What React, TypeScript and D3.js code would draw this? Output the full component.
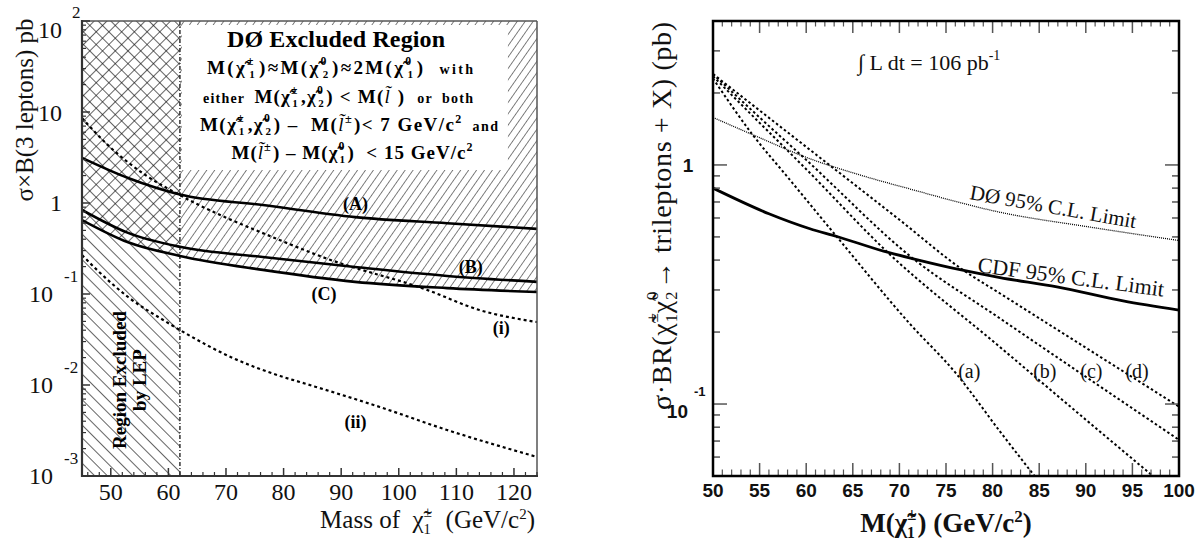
import React from 'react';
import * as d3 from 'd3';

// ---------- Left panel data ----------
const leftXDomain = [45, 124];
const leftYDomain = [1e-3, 1e2];
const lepLimit = 62;
const leftXTicks = [50, 60, 70, 80, 90, 100, 110, 120];
const leftYDecades = [-3, -2, -1, 0, 1, 2];
const curveA = [[45, 3.13], [53, 1.88], [62, 1.24], [76.4, 0.95], [92.4, 0.70], [108.4, 0.60], [124, 0.52]];
const curveB = [[45, 0.84], [53, 0.47], [62, 0.33], [76.4, 0.255], [92.4, 0.198], [108.4, 0.158], [124, 0.136]];
const curveC = [[45, 0.65], [53, 0.37], [62, 0.262], [76.4, 0.184], [92.4, 0.136], [108.4, 0.116], [124, 0.105]];
const curveI = [[45, 8.59], [49.5, 4.33], [56, 2.03], [62, 1.22], [79.4, 0.39], [87.2, 0.249], [104.9, 0.111], [114, 0.0667], [124, 0.0492]];
const curveII = [[45, 0.268], [47.6, 0.184], [53, 0.0927], [59.1, 0.0518], [62, 0.0402], [71.2, 0.0198], [79.4, 0.01256], [82.8, 0.0108], [96.7, 0.00573], [108.4, 0.0032], [124, 0.00162]];
const leftCurveLabels = [
  { t: '(A)', x: 92.5, y: 0.84 },
  { t: '(B)', x: 112.5, y: 0.17 },
  { t: '(C)', x: 87, y: 0.085 },
  { t: '(i)', x: 117.8, y: 0.036 },
  { t: '(ii)', x: 92.5, y: 0.0034 },
];

// ---------- Right panel data ----------
const rightXDomain = [50, 100];
const rightYDomain = [0.05, 4];
const rightXTicks = [50, 55, 60, 65, 70, 75, 80, 85, 90, 95, 100];
const cdfLimit = [[50, 0.80], [56, 0.625], [60.4, 0.541], [63.3, 0.502], [68.3, 0.436], [71.5, 0.405], [76.9, 0.362], [80.8, 0.338], [86.9, 0.309], [94, 0.27], [100, 0.247]];
const d0Limit = [[50, 1.58], [55, 1.30], [60, 1.076], [65.4, 0.917], [71.1, 0.794], [80.8, 0.634], [90.4, 0.55], [100, 0.483]];
const curveSa = [[50, 2.30], [54.3, 1.33], [58, 0.89], [63.3, 0.50], [71.1, 0.217], [76.1, 0.134], [80.8, 0.0767], [84.5, 0.05]];
const curveSb = [[50, 2.35], [55, 1.50], [60, 0.96], [68.6, 0.436], [80.8, 0.173], [90, 0.086], [97.2, 0.05]];
const curveSc = [[50, 2.40], [55, 1.58], [60, 1.05], [71.5, 0.405], [80.8, 0.228], [90, 0.130], [100, 0.0708]];
const curveSd = [[50, 2.40], [55, 1.69], [60, 1.19], [70, 0.59], [76.9, 0.362], [80.8, 0.29], [90, 0.172], [100, 0.0975]];
const rightCurveLabels = [
  { t: '(a)', x: 77.5 },
  { t: '(b)', x: 85.6 },
  { t: '(c)', x: 90.6 },
  { t: '(d)', x: 95.5 },
];
const rightLabelY = 0.128;

const SERIF = "'Liberation Serif', 'Times New Roman', serif";
const SANS = "'Liberation Sans', Arial, sans-serif";

const L = { x0: 82, x1: 537, y0: 21, y1: 476 };
const R = { x0: 713, x1: 1179, y0: 21, y1: 476 };
const PRE: React.CSSProperties = { whiteSpace: 'pre' };

// chi-tilde with stacked superscript / subscript, followed by `after` text
function chi(sup: string, sub: string, fs: number, key: string, after: string) {
  const supSize = fs * 0.62;
  const subSize = fs * 0.58;
  const supW = sup === '±' ? supSize * 0.56 : supSize * 0.5;
  const subW = subSize * 0.5;
  return [
    <tspan key={key + 'c'}>χ̃</tspan>,
    <tspan key={key + 'p'} fontSize={supSize} baselineShift={`${fs * 0.45}px`}>{sup}</tspan>,
    <tspan key={key + 'b'} fontSize={subSize} dx={-supW} baselineShift={`${-fs * 0.22}px`}>{sub}</tspan>,
    <tspan key={key + 'e'} dx={Math.max(0, supW - subW) + 1}>{after}</tspan>,
  ];
}

function slep(sup: string | null, fs: number, key: string, after: string) {
  const out = [<tspan key={key + 'l'} fontStyle="italic" fontWeight="normal">l̃</tspan>];
  if (sup) out.push(<tspan key={key + 's'} fontSize={fs * 0.65} baselineShift={`${fs * 0.42}px`}>{sup}</tspan>);
  out.push(<tspan key={key + 'e'} dx={1}>{after}</tspan>);
  return out;
}

export default function App() {
  const lx = d3.scaleLinear().domain(leftXDomain).range([L.x0, L.x1]);
  const ly = d3.scaleLog().domain(leftYDomain).range([L.y1, L.y0]);
  const rx = d3.scaleLinear().domain(rightXDomain).range([R.x0, R.x1]);
  const ry = d3.scaleLog().domain(rightYDomain).range([R.y1, R.y0]);

  const lineL = d3.line<number[]>().x(d => lx(d[0])).y(d => ly(d[1])).curve(d3.curveMonotoneX);
  const lineR = d3.line<number[]>().x(d => rx(d[0])).y(d => ry(d[1])).curve(d3.curveMonotoneX);

  const aboveC = `${lineL(curveC)}L${lx(124)},${L.y0}L${lx(45)},${L.y0}Z`;
  const xLep = lx(lepLimit);

  const leftMinorY = ly.ticks().filter(v => Math.abs(Math.log10(v) - Math.round(Math.log10(v))) > 1e-6);
  const leftMinorX = d3.range(46, 125, 2).filter(v => v % 10 !== 0);
  const rightMinorX = d3.range(50, 101, 1).filter(v => v % 5 !== 0);
  const rightYT = ry.ticks().filter(v => ry(v) > R.y0 + 1 && ry(v) < R.y1 - 1);

  const boxFs = 19;
  const smallFs = 14;

  return (
    <svg width={1200} height={558} style={{ position: 'absolute', left: 0, top: 0, background: '#fff' }}
      fontFamily={SERIF}>
      <defs>
        <pattern id="fwdDense" patternUnits="userSpaceOnUse" width={6.5} height={20} patternTransform="rotate(35)">
          <line x1={0} y1={0} x2={0} y2={20} stroke="#000" strokeWidth={1} />
        </pattern>
        <pattern id="fwdWide" patternUnits="userSpaceOnUse" width={9} height={20} patternTransform="rotate(45)">
          <line x1={0} y1={0} x2={0} y2={20} stroke="#111" strokeWidth={1.3} />
        </pattern>
        <pattern id="backWide" patternUnits="userSpaceOnUse" width={9} height={20} patternTransform="rotate(-45)">
          <line x1={0} y1={0} x2={0} y2={20} stroke="#111" strokeWidth={1.3} />
        </pattern>
        <clipPath id="clipLep"><rect x={L.x0} y={L.y0} width={xLep - L.x0} height={L.y1 - L.y0} /></clipPath>
        <clipPath id="clipRest"><rect x={xLep} y={L.y0} width={L.x1 - xLep} height={L.y1 - L.y0} /></clipPath>
        <clipPath id="clipL"><rect x={L.x0} y={L.y0} width={L.x1 - L.x0} height={L.y1 - L.y0} /></clipPath>
        <clipPath id="clipR"><rect x={R.x0} y={R.y0} width={R.x1 - R.x0} height={R.y1 - R.y0} /></clipPath>
      </defs>

      {/* ================= LEFT PANEL ================= */}
      <rect x={L.x0} y={L.y0} width={xLep - L.x0} height={L.y1 - L.y0} fill="url(#backWide)" />
      <path d={aboveC} fill="url(#fwdWide)" clipPath="url(#clipLep)" />
      <path d={aboveC} fill="url(#fwdDense)" clipPath="url(#clipRest)" />
      <rect x={xLep + 2} y={L.y0 + 4} width={326} height={145} fill="#fff" />
      <line x1={xLep} x2={xLep} y1={L.y0} y2={L.y1} stroke="#333" strokeWidth={1.5} strokeDasharray="4 2 1 2" />

      <g clipPath="url(#clipL)" fill="none" stroke="#000">
        <path d={lineL(curveA) || ''} strokeWidth={2.6} />
        <path d={lineL(curveB) || ''} strokeWidth={2.6} />
        <path d={lineL(curveC) || ''} strokeWidth={2.6} />
        <path d={lineL(curveI) || ''} strokeWidth={2.2} strokeDasharray="3 3" />
        <path d={lineL(curveII) || ''} strokeWidth={2.2} strokeDasharray="3 3" />
      </g>

      {leftCurveLabels.map(d => (
        <text key={d.t} x={lx(d.x)} y={ly(d.y)} fontSize={18} fontWeight="bold" textAnchor="middle">{d.t}</text>
      ))}

      {/* Box text */}
      <g fontWeight="bold" textAnchor="middle" style={PRE}>
        <text x={336} y={47} fontSize={24} textLength={218} lengthAdjust="spacing">DØ Excluded Region</text>
        <text x={340} y={74} fontSize={boxFs} style={PRE} textLength={266} lengthAdjust="spacing">
          <tspan>M(</tspan>{chi('±', '1', boxFs, 'a1', ')≈M(')}{chi('0', '2', boxFs, 'a2', ')≈2M(')}
          {chi('0', '1', boxFs, 'a3', ')  ')}
          <tspan fontSize={smallFs}>with</tspan>
        </text>
        <text x={338} y={103} fontSize={boxFs} style={PRE} textLength={270} lengthAdjust="spacing">
          <tspan fontSize={smallFs}>either  </tspan><tspan>M(</tspan>{chi('±', '1', boxFs, 'b1', ',')}{chi('0', '2', boxFs, 'b2', ') < M(')}
          {slep(null, boxFs, 'b3', ' )  ')}
          <tspan fontSize={smallFs}>or  both</tspan>
        </text>
        <text x={349} y={131} fontSize={boxFs} style={PRE} textLength={298} lengthAdjust="spacing">
          <tspan>M(</tspan>{chi('±', '1', boxFs, 'c1', ',')}{chi('0', '2', boxFs, 'c2', ') –  M(')}
          {slep('±', boxFs, 'c3', ')< 7 GeV/c')}
          <tspan fontSize={12} baselineShift="8px">2</tspan>
          <tspan fontSize={smallFs}>  and</tspan>
        </text>
        <text x={352} y={159} fontSize={boxFs} style={PRE} textLength={241} lengthAdjust="spacing">
          <tspan>M(</tspan>{slep('±', boxFs, 'd1', ') – M(')}{chi('0', '1', boxFs, 'd2', ')  < 15 GeV/c')}
          <tspan fontSize={12} baselineShift="8px">2</tspan>
        </text>
      </g>

      {/* LEP label */}
      <g fontWeight="bold" fontSize={19} textAnchor="middle">
        <text transform={`translate(126,380) rotate(-90)`}>Region Excluded</text>
        <text transform={`translate(146,380) rotate(-90)`}>by LEP</text>
      </g>

      {/* Left axes frame */}
      <line x1={L.x0} x2={L.x1} y1={L.y0} y2={L.y0} stroke="#555" strokeWidth={1.5} />
      <line x1={L.x1} x2={L.x1} y1={L.y0} y2={L.y1} stroke="#555" strokeWidth={1.5} />
      <line x1={L.x0} x2={L.x0} y1={L.y0 - 1} y2={L.y1 + 1} stroke="#333" strokeWidth={2.2} />
      <line x1={L.x0 - 1} x2={L.x1 + 1} y1={L.y1} y2={L.y1} stroke="#333" strokeWidth={2.2} />
      {leftYDecades.map(e => (
        <line key={'ly' + e} x1={L.x0} x2={L.x0 + 8} y1={ly(Math.pow(10, e))} y2={ly(Math.pow(10, e))} stroke="#333" strokeWidth={1.5} />
      ))}
      {leftMinorY.map(v => (
        <line key={'lym' + v} x1={L.x0} x2={L.x0 + 4} y1={ly(v)} y2={ly(v)} stroke="#333" strokeWidth={1.2} />
      ))}
      {leftXTicks.map(v => (
        <line key={'lx' + v} x1={lx(v)} x2={lx(v)} y1={L.y1} y2={L.y1 - 8} stroke="#333" strokeWidth={1.5} />
      ))}
      {leftMinorX.map(v => (
        <line key={'lxm' + v} x1={lx(v)} x2={lx(v)} y1={L.y1} y2={L.y1 - 4} stroke="#333" strokeWidth={1.2} />
      ))}
      {leftXTicks.map(v => (
        <text key={'lxt' + v} x={lx(v)} y={500} fontSize={24} textAnchor="middle" fill="#111">{v}</text>
      ))}
      {leftYDecades.map(e => {
        const y = ly(Math.pow(10, e));
        if (e === 0) return <text key={'lyt' + e} x={62} y={y + 8} fontSize={24} textAnchor="end" fill="#111">1</text>;
        if (e === 1) return <text key={'lyt' + e} x={62} y={y + 9} fontSize={24} textAnchor="end" fill="#111">10</text>;
        if (e === 2) return (
          <g key={'lyt' + e} fill="#111">
            <text x={62} y={38} fontSize={24} textAnchor="end">10</text>
            <text x={72} y={18} fontSize={17}>2</text>
          </g>
        );
        return (
          <g key={'lyt' + e} fill="#111">
            <text x={53} y={y + 8} fontSize={24} textAnchor="end">10</text>
            <text x={64} y={y - 12} fontSize={17}>{e}</text>
          </g>
        );
      })}
      <text transform="translate(33,110) rotate(-90)" fontSize={25} textAnchor="middle" fill="#111">σ×B(3 leptons) pb</text>
      <text x={535} y={528} fontSize={25} textAnchor="end" fill="#111" style={PRE}>
        <tspan>Mass of  </tspan>{chi('±', '1', 25, 'xl', '  (GeV/c')}
        <tspan fontSize={15} baselineShift="9px">2</tspan><tspan>)</tspan>
      </text>

      {/* ================= RIGHT PANEL ================= */}
      <g clipPath="url(#clipR)" fill="none" stroke="#000">
        <path d={lineR(d0Limit) || ''} strokeWidth={1.3} strokeDasharray="1 1" />
        <path d={lineR(cdfLimit) || ''} strokeWidth={2.8} />
        <path d={lineR(curveSa) || ''} strokeWidth={2} strokeDasharray="2.5 2.5" />
        <path d={lineR(curveSb) || ''} strokeWidth={2} strokeDasharray="2.5 2.5" />
        <path d={lineR(curveSc) || ''} strokeWidth={2} strokeDasharray="2.5 2.5" />
        <path d={lineR(curveSd) || ''} strokeWidth={2} strokeDasharray="2.5 2.5" />
      </g>
      {rightCurveLabels.map(d => (
        <text key={d.t} x={rx(d.x)} y={ry(rightLabelY)} fontSize={20} textAnchor="middle" fill="#111">{d.t}</text>
      ))}
      <text transform="translate(969,199) rotate(10)" fontSize={21} fill="#111">DØ 95% C.L. Limit</text>
      <text transform="translate(977,272) rotate(7.5)" fontSize={22} fill="#111">CDF 95% C.L. Limit</text>
      <text x={858} y={70} fontSize={22} fill="#111">
        <tspan>∫ L dt = 106 pb</tspan><tspan fontSize={14} baselineShift="10px">-1</tspan>
      </text>

      {/* right ticks */}
      {rightXTicks.map(v => (
        <g key={'rx' + v} stroke="#555" strokeWidth={1.5}>
          <line x1={rx(v)} x2={rx(v)} y1={R.y1} y2={R.y1 - 13} />
          <line x1={rx(v)} x2={rx(v)} y1={R.y0} y2={R.y0 + 12} />
        </g>
      ))}
      {rightMinorX.map(v => (
        <g key={'rxm' + v} stroke="#555" strokeWidth={1.2}>
          <line x1={rx(v)} x2={rx(v)} y1={R.y1} y2={R.y1 - 6.5} />
          <line x1={rx(v)} x2={rx(v)} y1={R.y0} y2={R.y0 + 5.5} />
        </g>
      ))}
      {rightYT.map(v => {
        const major = Math.abs(Math.log10(v) - Math.round(Math.log10(v))) < 1e-6;
        const len = major ? 14 : 7;
        return (
          <g key={'ry' + v} stroke="#555" strokeWidth={1.5}>
            <line x1={R.x0} x2={R.x0 + len} y1={ry(v)} y2={ry(v)} />
            <line x1={R.x1} x2={R.x1 - len} y1={ry(v)} y2={ry(v)} />
          </g>
        );
      })}
      <rect x={R.x0} y={R.y0} width={R.x1 - R.x0} height={R.y1 - R.y0} fill="none" stroke="#000" strokeWidth={2.5} />
      {rightXTicks.map(v => (
        <text key={'rxt' + v} x={rx(v)} y={497} fontSize={19} fontFamily={SANS} fontWeight="bold" textAnchor="middle" fill="#111">{v}</text>
      ))}
      <text x={688} y={ry(1) + 7} fontSize={19} fontFamily={SANS} fontWeight="bold" textAnchor="middle" fill="#111">1</text>
      <text x={688} y={ry(0.1) + 14} fontSize={19} fontFamily={SANS} fontWeight="bold" textAnchor="end" fill="#111">10</text>
      <text x={694} y={ry(0.1) - 8} fontSize={13} fontFamily={SANS} fontWeight="bold" fill="#111">-1</text>

      <text x={946} y={532} fontSize={27} fontWeight="bold" textAnchor="middle" fill="#111" style={PRE}>
        <tspan>M(</tspan>{chi('±', '1', 27, 'rx', ') (GeV/c')}
        <tspan fontSize={17} baselineShift="10px">2</tspan><tspan>)</tspan>
      </text>
      <text transform="translate(671,216) rotate(-90)" fontSize={28} textAnchor="middle" fill="#111" style={PRE}
        textLength={388} lengthAdjust="spacing">
        <tspan>σ·BR(</tspan>{chi('±', '1', 28, 'ry1', '')}{chi('0', '2', 28, 'ry2', '→ trileptons + X) (pb)')}
      </text>
    </svg>
  );
}
